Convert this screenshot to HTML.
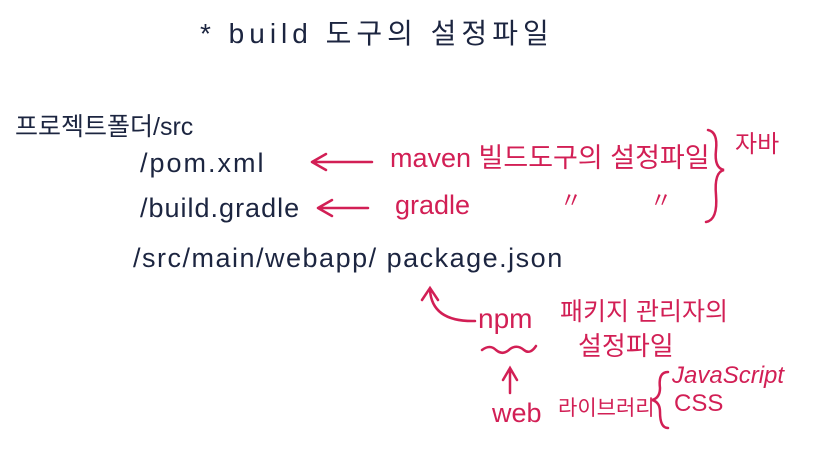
<!DOCTYPE html>
<html><head><meta charset="utf-8"><style>
html,body{margin:0;padding:0;background:#fff;}
body{width:821px;height:465px;position:relative;overflow:hidden;font-family:"Liberation Sans","Noto Sans CJK KR",sans-serif;}
.t{position:absolute;white-space:nowrap;line-height:1;}
.n{color:#1c2540;}
.r{color:#d21f55;}
svg{position:absolute;left:0;top:0;}
</style></head><body>
<div class="t n" style="left:200px;top:20px;font-size:28px;letter-spacing:5px;">* build 도구의 설정파일</div>
<div class="t n" style="left:15px;top:115px;font-size:25px;">프로젝트폴더/src</div>
<div class="t n" style="left:140px;top:150px;font-size:27px;letter-spacing:2px;">/pom.xml</div>
<div class="t n" style="left:140px;top:195px;font-size:27px;letter-spacing:1px;">/build.gradle</div>
<div class="t n" style="left:133px;top:245px;font-size:27px;letter-spacing:1.5px;">/src/main/webapp/ package.json</div>

<div class="t r" style="left:390px;top:145px;font-size:27px;">maven 빌드도구의 설정파일</div>
<div class="t r" style="left:735px;top:133px;font-size:24px;">자바</div>
<div class="t r" style="left:395px;top:192px;font-size:27px;">gradle</div>
<div class="t r" style="left:560px;top:190px;font-size:22px;">〃</div>
<div class="t r" style="left:650px;top:190px;font-size:22px;">〃</div>
<div class="t r" style="left:478px;top:305px;font-size:28px;">npm</div>
<div class="t r" style="left:560px;top:300px;font-size:25px;">패키지 관리자의</div>
<div class="t r" style="left:578px;top:333px;font-size:26px;">설정파일</div>
<div class="t r" style="left:492px;top:400px;font-size:27px;">web</div>
<div class="t r" style="left:558px;top:398px;font-size:21px;">라이브러리</div>
<div class="t r" style="left:672px;top:364px;font-size:24px;font-style:italic;">JavaScript</div>
<div class="t r" style="left:674px;top:392px;font-size:24px;">CSS</div>

<svg width="821" height="465" fill="none" stroke="#d21f55" stroke-width="2.5" stroke-linecap="round">
<path d="M312 162 L372 162 M312 162 L326 154 M312 162 L326 170"/>
<path d="M318 208 L368 208 M318 208 L332 200 M318 208 L332 216"/>
<path d="M708 130 Q718 132 716 150 Q714 168 724 170 Q714 172 716 195 Q718 220 706 222"/>
<path d="M475 321 Q432 322 430 290 M422 300 L430 288 L438 300"/>
<path d="M482 350 Q490 344 496 350 Q503 356 510 349 Q517 344 524 350 Q530 355 536 346"/>
<path d="M510 393 L510 370 M503 380 L510 368 L517 380"/>
<path d="M668 372 Q658 372 660 388 Q660 398 652 400 Q660 402 660 412 Q660 428 668 428"/>
</svg>
</body></html>
